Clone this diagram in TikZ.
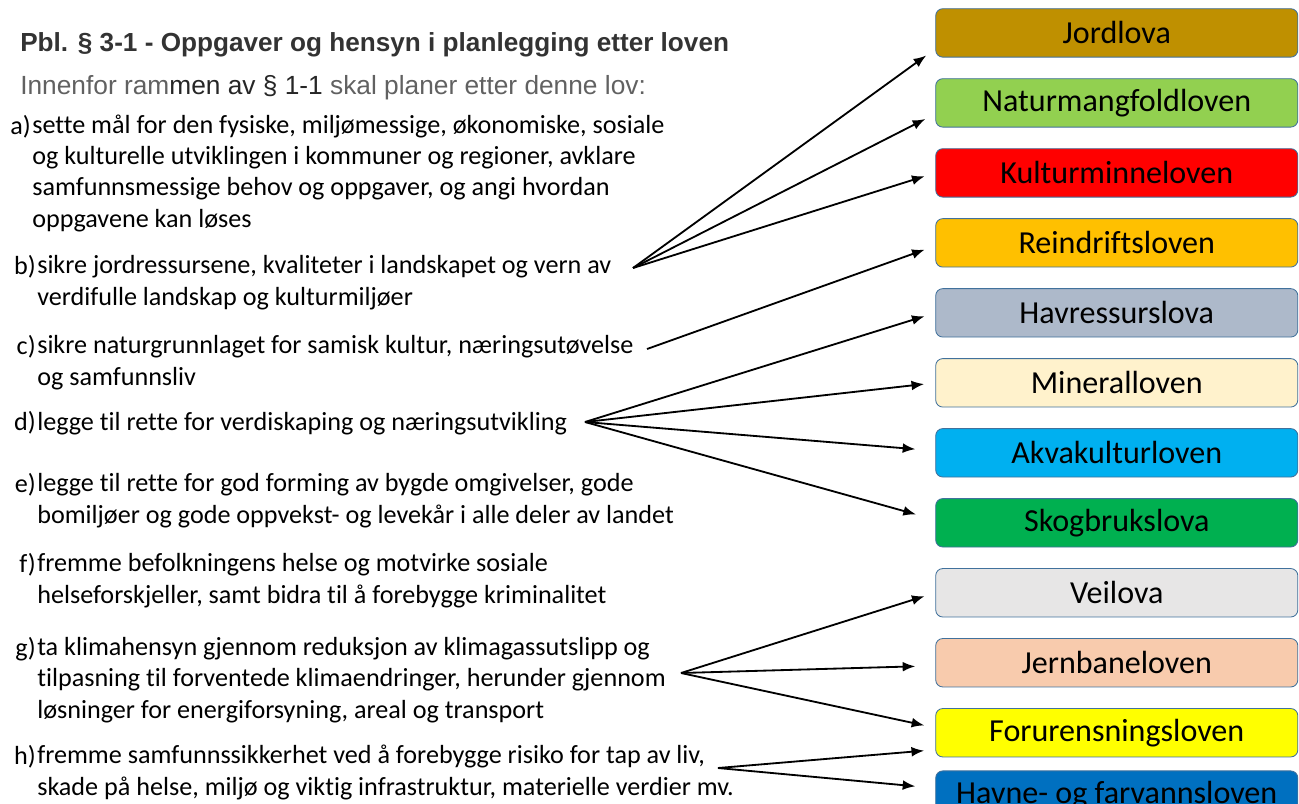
\documentclass[tikz,border=0pt]{standalone}
\usepackage{fontspec}
\setmainfont{Carlito}[Ligatures=NoCommon]
\newfontfamily\headfont{Liberation Sans}
\usetikzlibrary{positioning}
\usetikzlibrary{matrix, arrows.meta}
\definecolor{jordfarge}{HTML}{BF9000}
\definecolor{naturfarge}{HTML}{92D050}
\definecolor{kulturfarge}{HTML}{FF0000}
\definecolor{reinfarge}{HTML}{FFC000}
\definecolor{havfarge}{HTML}{ADB9CA}
\definecolor{mineralfarge}{HTML}{FFF2CC}
\definecolor{akvafarge}{HTML}{00B0F0}
\definecolor{skogfarge}{HTML}{00B050}
\definecolor{veifarge}{HTML}{E7E6E6}
\definecolor{jernfarge}{HTML}{F8CBAD}
\definecolor{forurfarge}{HTML}{FFFF00}
\definecolor{havnefarge}{HTML}{0070C0}
\definecolor{kantfarge}{HTML}{41719C}
\tikzset{my arrow/.style={-{Latex[length=9pt, width=7pt]}, line width=1.3pt, black, shorten >=0.28cm}}
\tikzstyle{lov} = [rectangle, rounded corners=5pt, draw=kantfarge, line width=0.6pt, minimum width=9.05cm, minimum height=1.21cm, text centered, font=\fontsize{22.8}{26}\selectfont]
\tikzstyle{punktnr} = [anchor=base east, inner sep=0pt, font=\fontsize{18.6}{22.1}\selectfont]
\tikzstyle{punkt} = [anchor=base west, inner sep=0pt, align=left, font=\fontsize{18.6}{22.1}\selectfont]

\begin{document}
\begin{tikzpicture}[x=0.025cm, y=-0.025cm]
  \useasboundingbox (0,0) rectangle (1299,803);
  \node [anchor=base west, inner sep=0pt, text=black!80, font=\headfont\bfseries\fontsize{18.6}{22}\selectfont] (tittel) at (20,51) {Pbl. § 3-1 - Oppgaver og hensyn i planlegging etter loven};
  \node [anchor=base west, inner sep=0pt, text=black!62, font=\headfont\fontsize{18.7}{22}\selectfont] (ingress) at (20,94) {Innenfor ram\textcolor{black!85}{men av § 1-1} skal planer etter denne lov:};

  % punktene a) - h) (tekstnodene står på grunnlinjen til siste linje)
  \node [punktnr] (na) at (31,134) {a)};
  \node [punkt]   (pa) at (32,227) {sette mål for den fysiske, miljømessige, økonomiske, sosiale\\og kulturelle utviklingen i kommuner og regioner, avklare\\samfunnsmessige behov og oppgaver, og angi hvordan\\oppgavene kan løses};
  \node [punktnr] (nb) at (36,274) {b)};
  \node [punkt]   (pb) at (37,305) {sikre jordressursene, kvaliteter i landskapet og vern av\\verdifulle landskap og kulturmiljøer};
  \node [punktnr] (nc) at (36,354) {c)};
  \node [punkt]   (pc) at (37,385) {sikre naturgrunnlaget for samisk kultur, næringsutøvelse\\og samfunnsliv};
  \node [punktnr] (nd) at (36,430) {d)};
  \node [punkt]   (pd) at (37,430) {legge til rette for verdiskaping og næringsutvikling};
  \node [punktnr] (ne) at (36,492) {e)};
  \node [punkt]   (pe) at (37,523) {legge til rette for god forming av bygde omgivelser, gode\\bomiljøer og gode oppvekst- og levekår i alle deler av landet};
  \node [punktnr] (nf) at (36,572) {f)};
  \node [punkt]   (pf) at (37,603) {fremme befolkningens helse og motvirke sosiale\\helseforskjeller, samt bidra til å forebygge kriminalitet};
  \node [punktnr] (ng) at (36,656) {g)};
  \node [punkt]   (pg) at (37,718) {ta klimahensyn gjennom reduksjon av klimagassutslipp og\\tilpasning til forventede klimaendringer, herunder gjennom\\løsninger for energiforsyning, areal og transport};
  \node [punktnr] (nh) at (36,764) {h)};
  \node [punkt]   (ph) at (37,795) {fremme samfunnssikkerhet ved å forebygge risiko for tap av liv,\\skade på helse, miljø og viktig infrastruktur, materielle verdier mv.};

  % lovene
  \matrix [anchor=north west, row sep=0.518cm, inner sep=0pt] (lover) at (935,8)
  {
	\node [lov, fill=jordfarge]    (jord)    {Jordlova};\\
	\node [lov, fill=naturfarge]   (natur)   {Naturmangfoldloven};\\
	\node [lov, fill=kulturfarge]  (kultur)  {Kulturminneloven};\\
	\node [lov, fill=reinfarge]    (rein)    {Reindriftsloven};\\
	\node [lov, fill=havfarge]     (hav)     {Havressurslova};\\
	\node [lov, fill=mineralfarge] (mineral) {Mineralloven};\\
	\node [lov, fill=akvafarge]    (akva)    {Akvakulturloven};\\
	\node [lov, fill=skogfarge]    (skog)    {Skogbrukslova};\\
	\node [lov, fill=veifarge]     (vei)     {Veilova};\\
	\node [lov, fill=jernfarge]    (jern)    {Jernbaneloven};\\
	\node [lov, fill=forurfarge]   (forur)   {Forurensningsloven};\\[-0.19cm]
	\node [lov, fill=havnefarge]   (havne)   {Havne- og farvannsloven};\\
  };

  \coordinate (b ut) at (633,268);
  \coordinate (c ut) at (647,349);
  \coordinate (d ut) at (585,422);
  \coordinate (g ut) at (681,673);
  \coordinate (h ut) at (718,768);

  \draw [my arrow] (b ut) -- ([yshift=-0.4cm]jord.west);
  \draw [my arrow] (b ut) -- ([yshift=-0.275cm]natur.west);
  \draw [my arrow] (b ut) -- (kultur.west);
  \draw [my arrow] (c ut) -- ([yshift=-0.075cm]rein.west);
  \draw [my arrow] (d ut) -- (hav.west);
  \draw [my arrow] (d ut) -- (mineral.west);
  \draw [my arrow, shorten >=0.5cm] (d ut) -- ([yshift=0.05cm]akva.west);
  \draw [my arrow, shorten >=0.5cm] (d ut) -- ([yshift=0.075cm]skog.west);
  \draw [my arrow] (g ut) -- (vei.west);
  \draw [my arrow, shorten >=0.5cm] (g ut) -- ([yshift=-0.075cm]jern.west);
  \draw [my arrow] (g ut) -- ([yshift=0.125cm]forur.west);
  \draw [my arrow] (h ut) -- ([yshift=-0.425cm]forur.west);
  \draw [my arrow, shorten >=0.5cm] (h ut) -- ([yshift=0.175cm]havne.west);
\end{tikzpicture}
\end{document}
